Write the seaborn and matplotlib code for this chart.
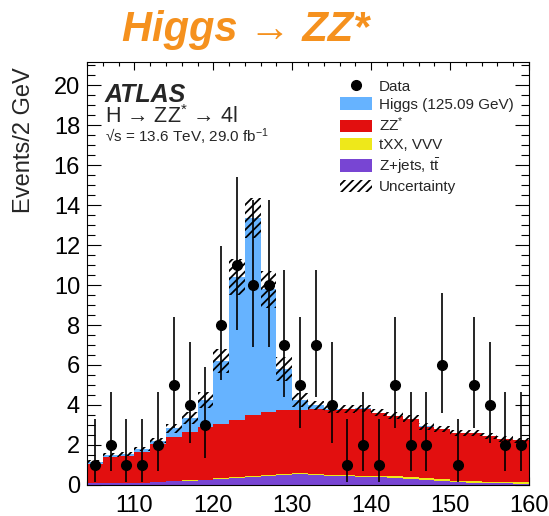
import numpy as np
import pandas as pd
import matplotlib
matplotlib.use("Agg")
import matplotlib.pyplot as plt
import seaborn as sns
from matplotlib.ticker import MultipleLocator
from matplotlib.patches import Patch
from matplotlib.lines import Line2D

# ---------------- data ----------------
bin_low = [104, 106, 108, 110, 112, 114, 116, 118, 120, 122, 124, 126, 128, 130,
           132, 134, 136, 138, 140, 142, 144, 146, 148, 150, 152, 154, 156, 158]
bin_width = 2
data_counts = [1, 2, 1, 1, 2, 5, 4, 3, 8, 11, 10, 10, 7, 5,
               7, 4, 1, 2, 1, 5, 2, 2, 6, 1, 5, 4, 2, 2]
zjets = [0.08, 0.08, 0.08, 0.08, 0.15, 0.18, 0.22, 0.25, 0.30, 0.35, 0.40, 0.45, 0.50, 0.53,
         0.50, 0.47, 0.45, 0.42, 0.38, 0.35, 0.30, 0.25, 0.22, 0.13, 0.10, 0.08, 0.08, 0.07]
txx = [0.02, 0.02, 0.02, 0.02, 0.02, 0.02, 0.02, 0.02, 0.03, 0.03, 0.03, 0.03, 0.03, 0.05,
       0.05, 0.05, 0.05, 0.05, 0.08, 0.08, 0.08, 0.08, 0.08, 0.08, 0.08, 0.08, 0.08, 0.08]
zz = [0.95, 1.28, 1.35, 1.57, 1.89, 2.22, 2.41, 2.65, 2.72, 2.87, 3.07, 3.17, 3.24, 3.17,
      3.27, 3.24, 3.28, 3.35, 3.14, 3.02, 2.92, 2.59, 2.50, 2.39, 2.42, 2.30, 2.14, 2.08]
higgs = [0.12, 0.10, 0.10, 0.13, 0.16, 0.41, 0.70, 1.33, 3.15, 7.15, 9.83, 6.13, 2.03, 0.50,
         0.16, 0.04, 0.02, 0.02, 0.01, 0.01, 0.01, 0.01, 0.01, 0.01, 0.01, 0.0, 0.0, 0.0]
uncert = [0.08, 0.10, 0.10, 0.12, 0.14, 0.22, 0.28, 0.42, 0.58, 0.90, 1.00, 0.94, 0.60, 0.33,
          0.22, 0.20, 0.18, 0.18, 0.18, 0.17, 0.17, 0.16, 0.15, 0.15, 0.15, 0.14, 0.14, 0.13]
# 68% Poisson interval bounds for each observed count
poisson_low = {1: 0.173, 2: 0.708, 3: 1.367, 4: 2.086, 5: 2.840, 6: 3.620,
               7: 4.419, 8: 5.232, 10: 6.891, 11: 7.734}
poisson_high = {1: 3.300, 2: 4.638, 3: 5.918, 4: 7.163, 5: 8.382, 6: 9.584,
                7: 10.77, 8: 11.95, 10: 14.27, 11: 15.42}

labels = ["Higgs (125.09 GeV)", "ZZ$^{*}$", "tXX, VVV", r"Z+jets, t$\bar{\rm t}$"]
colors = ["#66b3ff", "#e20f0f", "#eee81a", "#7845d3"]

# ---------------- style ----------------
sns.set_theme(style="ticks")
plt.rcParams["font.family"] = ["Liberation Sans", "DejaVu Sans"]
plt.rcParams["mathtext.fontset"] = "custom"
plt.rcParams["mathtext.rm"] = "Liberation Sans"
plt.rcParams["mathtext.it"] = "Liberation Sans:italic"
plt.rcParams["mathtext.bf"] = "Liberation Sans:bold"
plt.rcParams["hatch.linewidth"] = 1.3
plt.rcParams["hatch.color"] = "black"

fig = plt.figure(figsize=(5.49, 5.16), dpi=100)
ax = fig.add_axes([0.1585, 0.0601, 0.8051, 0.8197])

edges = bin_low + [bin_low[-1] + bin_width]
centers = [b + bin_width / 2 for b in bin_low]

df = pd.DataFrame({
    "mass": centers * 4,
    "events": higgs + zz + txx + zjets,
    "process": sum([[lab] * len(centers) for lab in labels], []),
})
sns.histplot(data=df, x="mass", weights="events", hue="process", hue_order=labels,
             multiple="stack", bins=edges, element="step", fill=True, alpha=1,
             linewidth=0, palette=dict(zip(labels, colors)), legend=False, ax=ax)

total = np.array(higgs) + np.array(zz) + np.array(txx) + np.array(zjets)
unc = np.array(uncert)
ax.bar(bin_low, 2 * unc, bottom=total - unc, width=bin_width, align="edge",
       fill=False, hatch="////", edgecolor="black", linewidth=0, zorder=3)

cnt = np.array(data_counts)
lo = np.array([c - poisson_low[c] for c in data_counts])
hi = np.array([poisson_high[c] - c for c in data_counts])
ax.errorbar(centers, cnt, yerr=[lo, hi], fmt="o", color="black", ms=7,
            elinewidth=1.2, capsize=0, zorder=5)

ax.set_xlim(104, 160)
ax.set_ylim(0, 21.15)
ax.set_xlabel("")
ax.set_ylabel("Events/2 GeV", fontsize=17, loc="top")
ax.yaxis.set_label_coords(-0.118, 0.988)

ax.xaxis.set_major_locator(MultipleLocator(10))
ax.xaxis.set_minor_locator(MultipleLocator(2))
ax.yaxis.set_major_locator(MultipleLocator(2))
ax.yaxis.set_minor_locator(MultipleLocator(0.5))
ax.tick_params(axis="both", which="both", direction="in", top=True, right=True,
               color="black", width=0.8, labelsize=17, labelcolor="black")
ax.tick_params(axis="x", which="major", length=6, pad=7)
ax.tick_params(axis="x", which="minor", length=3)
ax.tick_params(axis="y", which="major", length=10, pad=5)
ax.tick_params(axis="y", which="minor", length=5.5)
for sp in ax.spines.values():
    sp.set_color("black")
    sp.set_linewidth(0.8)
    sp.set_zorder(6)

# texts
ax.text(0.0407, 0.9054, "ATLAS", transform=ax.transAxes, fontsize=18,
        fontweight="bold", fontstyle="italic", va="baseline", ha="left")
ax.text(0.0407, 0.855, "H → ZZ$^{*}$ → 4l", transform=ax.transAxes, fontsize=15.5,
        va="baseline", ha="left")
ax.text(0.0407, 0.811, "√s = 13.6 TeV, 29.0 fb$^{-1}$", transform=ax.transAxes,
        fontsize=11, va="baseline", ha="left")

fig.text(0.448, 0.9205, "Higgs → ZZ*", color="#f5911e", fontsize=30,
         fontweight="bold", fontstyle="italic", ha="center", va="baseline")

handles = [Line2D([0], [0], marker="o", color="black", linestyle="none", ms=7)]
handles += [Patch(facecolor=c, edgecolor="none") for c in colors]
handles += [Patch(facecolor="none", edgecolor="black", hatch="////", linewidth=0)]
leg = ax.legend(handles, ["Data"] + labels + ["Uncertainty"], loc="upper left",
                bbox_to_anchor=(0.572, 0.9593), frameon=False, fontsize=11,
                handlelength=2.1, handleheight=0.85, handletextpad=0.46,
                labelspacing=0.245, borderpad=0, borderaxespad=0)

fig.savefig("out.png", dpi=100)
